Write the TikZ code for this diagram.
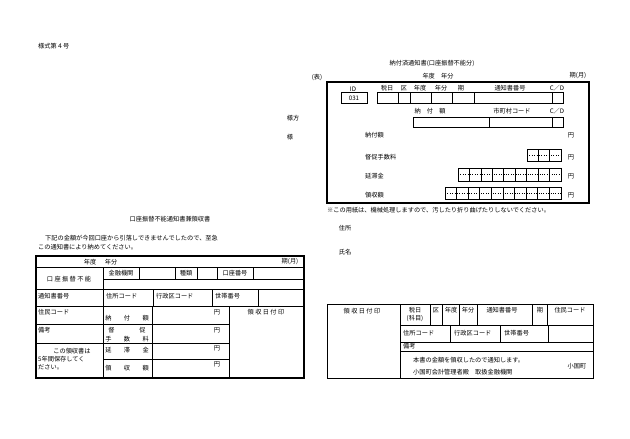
\documentclass[tikz,border=0pt]{standalone}
\usepackage{fontspec}
\setmainfont{Noto Sans CJK JP}
\begin{document}
\begin{tikzpicture}[x=1pt,y=-1pt,
  t/.style={inner sep=0pt,font=\fontsize{6.2}{7}\selectfont},
  tl/.style={t,anchor=west},
  thick box/.style={line width=1.1pt},
  thin/.style={line width=0.5pt},
  dig/.style={line width=0.4pt,dotted}]
\useasboundingbox (0,0) rectangle (630,439);
\node[tl] (form) at (38,46) {様式第４号};
\node[t] (omote) at (317,78) {(表)};
% top right
\node[t] (tt) at (432,63) {納付済通知書(口座振替不能分)};
\node[t] (ny) at (438,76) {年度　年分};
\node[t] (ki) at (578,76) {期(月)};
\draw[thick box] (327,82) rectangle (589,203);
\node[t] (id) at (353,89) {ID};
\draw[thin] (341,92) rectangle (367,103);
\node[t] (c031) at (354,98) {031};
\foreach \x/\s in {387/税日,404/区,420/年度,441/年分,461/期,510/通知書番号,557/C／D}
  \node[t] at (\x,88) {\s};
\draw[thin] (377,92) rectangle (563,103);
\foreach \x in {398,410,431,452,474,552} \draw[thin] (\x,92)--(\x,103);
\node[t] (nf) at (430,111) {納　付　額};
\node[t] (sc) at (512,111) {市町村コード};
\node[t] (cd2) at (557,111) {C／D};
\draw[thin] (413,117) rectangle (563,127);
\foreach \x in {489,552} \draw[thin] (\x,117)--(\x,127);
\node[tl] (l1) at (365,135) {納付額};
\node[t] at (571,135) {円};
\node[tl] (l2) at (365,157) {督促手数料};
\node[t] at (571,157) {円};
\node[tl] (l3) at (365,176) {延滞金};
\node[t] at (571,176) {円};
\node[tl] (l4) at (365,195) {領収額};
\node[t] at (571,195) {円};
\foreach \a/\n/\ya/\yb in {527/3/149/161,458/9/168/181,445/10/187/199}{
  \pgfmathsetmacro{\w}{(561-\a)/\n}
  \draw[dig] (\a,\ya/2+\yb/2)--(561,\ya/2+\yb/2);
  \draw[line width=0.7pt] (\a,\ya) rectangle (561,\yb);
  \foreach \i in {1,...,\n}{
    \pgfmathsetmacro{\xx}{\a+\i*\w}
    \ifnum\i<\n \draw[line width=0.7pt] (\xx,\ya)--(\xx,\yb); \fi
  }
}
\node[tl] (note) at (327,210) {※この用紙は、機械処理しますので、汚したり折り曲げたりしないでください。};
\node[t] (sama1) at (293,118) {様方};
\node[t] (sama2) at (290,137) {様};
\node[t] (jusho) at (345,228) {住所};
\node[t] (shimei) at (345,252) {氏名};
% left bottom
\node[t] (lt) at (170,219) {口座振替不能通知書兼領収書};
\node[tl] (p1) at (45,238) {下記の金額が今回口座から引落しできませんでしたので、至急};
\node[tl] (p2) at (38,247) {この通知書により納めてください。};
\draw[thick box] (36,256) rectangle (304,378);
\draw[thin] (36,267)--(304,267) (36,289)--(304,289) (36,306)--(304,306)
  (103,279)--(304,279) (36,324)--(229,324) (36,343)--(229,343) (103,359)--(229,359);
\draw[thin] (103,267)--(103,378) (139,267)--(139,279) (175,267)--(175,279) (197,267)--(197,279)
  (217,267)--(217,279) (253,267)--(253,279) (153,289)--(153,306) (212,289)--(212,306)
  (258,289)--(258,306) (152,306)--(152,378) (229,306)--(229,378);
\node[t] at (90,262) {年度}; \node[t] at (111,262) {年分};
\node[t] at (290,262) {期(月)};
\node[t] at (69,279) {口 座 振 替 不 能};
\node[t] at (121,273) {金融機関}; \node[t] at (186,273) {種類}; \node[t] at (235,273) {口座番号};
\node[tl] at (38,296) {通知書番号}; \node[tl] at (106,296) {住所コード};
\node[tl] at (156,296) {行政区コード}; \node[tl] at (215,296) {世帯番号};
\node[tl] at (38,312) {住民コード};
\node[t] at (127,318) {納　　付　　額};
\node[t] at (217,312) {円}; \node[t] at (217,330) {円}; \node[t] at (217,348) {円}; \node[t] at (217,364) {円};
\node[t] at (266,312) {領 収 日 付 印};
\node[tl] at (38,330) {備考};
\node[t] at (127,330) {督　　　　促}; \node[t] at (127,339) {手　　数　　料};
\node[t] at (72,351) {この領収書は}; \node[tl] at (38,359) {5年間保存してく}; \node[tl] at (38,367) {ださい。};
\node[t] at (127,350) {延　　滞　　金};
\node[t] at (127,368) {領　　収　　額};
% right bottom
\draw[thin] (327,304) rectangle (593,378);
\draw[thin] (400,304)--(400,378) (400,325)--(593,325) (400,342)--(593,342) (400,351)--(593,351);
\foreach \x in {430,442,459,477,532,547} \draw[thin] (\x,304)--(\x,325);
\foreach \x in {450,500,548} \draw[thin] (\x,325)--(\x,342);
\node[t] at (362,311) {領 収 日 付 印};
\node[t] at (415,310) {税日}; \node[t] at (415,318) {(科目)};
\node[t] at (436,310) {区}; \node[t] at (451,310) {年度}; \node[t] at (468,310) {年分};
\node[t] at (502,310) {通知書番号}; \node[t] at (540,310) {期}; \node[t] at (570,310) {住民コード};
\node[tl] at (403,333) {住所コード}; \node[tl] at (454,333) {行政区コード}; \node[tl] at (504,333) {世帯番号};
\node[tl] at (403,346) {備考};
\node[tl] at (413,360) {本書の金額を領収したので通知します。};
\node[tl] at (413,372) {小国町会計管理者殿　取扱金融機関};
\node[t] at (577,366) {小国町};
\end{tikzpicture}
\end{document}
